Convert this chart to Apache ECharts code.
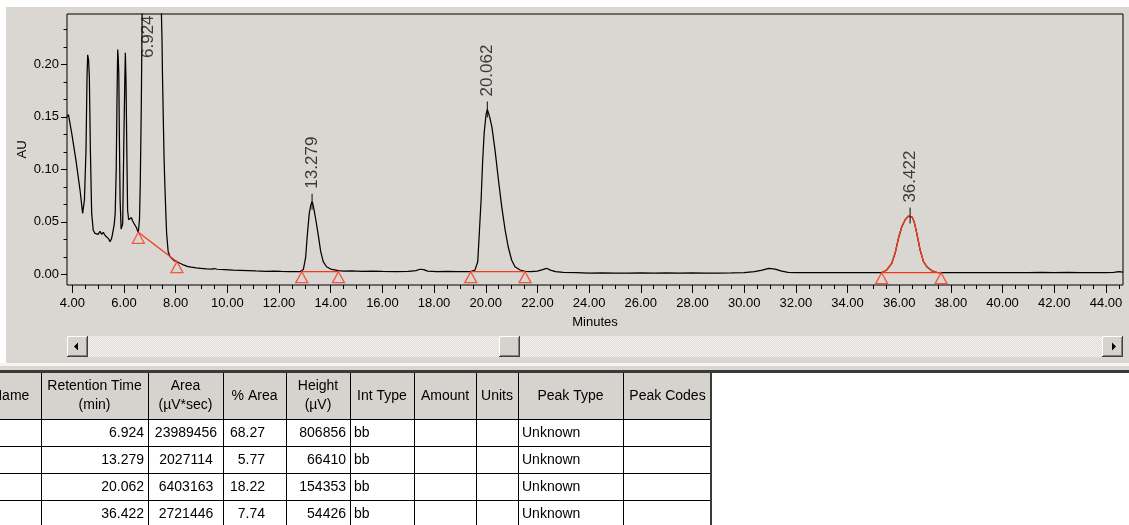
<!DOCTYPE html>
<html>
<head>
<meta charset="utf-8">
<script src="https://cdn.jsdelivr.net/npm/echarts@6/dist/echarts.min.js"></script>
<style>
  html, body { margin: 0; padding: 0; background: #ffffff; }
  #chart { width: 1129px; height: 525px; }
</style>
</head>
<body>
<div id="chart"></div>
<script>
// ---- Chromatogram trace: retention time (min) and absorbance (AU) ----
const traceTime = [
  3.80, 3.85, 3.98, 4.14, 4.30, 4.40, 4.47, 4.53, 4.57, 4.595, 4.63, 4.66, 4.70, 4.75, 4.81, 4.88, 4.94, 5.00, 5.07, 5.14,
  5.20, 5.27, 5.33, 5.40, 5.46, 5.52, 5.56, 5.62, 5.66, 5.70, 5.73, 5.757, 5.78, 5.80, 5.82, 5.85, 5.89, 5.92, 5.95, 5.99,
  6.03, 6.053, 6.08, 6.11, 6.14, 6.18, 6.21, 6.25, 6.29, 6.33, 6.37, 6.42, 6.47, 6.52, 6.555,
  6.60, 6.63, 6.67, 6.70, 6.74, 6.79, 6.85, 6.924, 7.00, 7.10, 7.20, 7.30, 7.38, 7.44, 7.47, 7.49, 7.52, 7.55, 7.58, 7.62,
  7.65, 7.71, 7.78, 7.84, 7.94, 8.05,
  8.17, 8.30, 8.45, 8.60, 8.80, 8.95, 9.20, 9.40, 9.50, 9.60, 9.90, 10.23, 10.50, 10.80, 11.10, 11.50, 11.80, 12.10, 12.40, 12.60,
  12.81,
  12.94, 13.03, 13.09, 13.17, 13.23, 13.279, 13.31, 13.35, 13.43, 13.52, 13.61, 13.71, 13.84, 14.00, 14.10, 14.30, 14.50,
  14.80, 15.20, 15.60, 16.00, 16.50, 17.00, 17.30, 17.45, 17.60, 17.75, 18.10, 18.50, 18.90, 19.20, 19.42,
  19.58, 19.69, 19.75, 19.82, 19.88, 19.94, 20.01, 20.062, 20.10, 20.16, 20.24, 20.36, 20.49, 20.62, 20.75, 20.87, 21.00, 21.13, 21.33, 21.52,
  21.75,
  22.00, 22.20, 22.35, 22.50, 22.70, 23.00, 23.50, 24.00, 24.50, 25.00, 25.50, 26.00, 26.50, 27.00, 27.50, 28.00, 28.50, 29.00, 29.50, 30.00,
  30.40, 30.70, 30.95, 31.20, 31.45, 31.70, 32.00, 32.50, 33.00, 33.50, 34.00, 34.50, 35.00,
  35.32, 35.52, 35.71, 35.84, 35.97, 36.10, 36.23, 36.35, 36.422, 36.50, 36.58, 36.68, 36.81, 36.94, 37.07, 37.26, 37.45, 37.62,
  38.00, 38.50, 39.00, 39.50, 40.00, 40.50, 41.00, 41.50, 42.00, 42.50, 43.00, 43.50, 44.00, 44.30, 44.50, 44.66
];
const traceAU = [
  0.150, 0.152, 0.134, 0.109, 0.080, 0.058, 0.071, 0.118, 0.188, 0.209, 0.204, 0.188, 0.118, 0.058, 0.042, 0.039, 0.040, 0.038, 0.041, 0.038,
  0.040, 0.037, 0.038, 0.034, 0.031, 0.034, 0.039, 0.047, 0.058, 0.100, 0.166, 0.214, 0.205, 0.190, 0.134, 0.071, 0.043, 0.044, 0.048, 0.118,
  0.182, 0.211, 0.182, 0.118, 0.061, 0.052, 0.053, 0.051, 0.054, 0.051, 0.050, 0.047, 0.045, 0.042, 0.040,
  0.052, 0.085, 0.160, 0.240, 0.380, 0.560, 0.740, 0.837, 0.790, 0.650, 0.500, 0.380, 0.300, 0.258, 0.225, 0.190, 0.150, 0.112, 0.087, 0.058,
  0.039, 0.0215, 0.017, 0.0152, 0.013, 0.012,
  0.0105, 0.0089, 0.0075, 0.0068, 0.0060, 0.0057, 0.0052, 0.0050, 0.0055, 0.0048, 0.0045, 0.0040, 0.0038, 0.0036, 0.0032, 0.0028, 0.0030, 0.0027, 0.0025, 0.0026,
  0.0025,
  0.0045, 0.016, 0.036, 0.058, 0.066, 0.0692, 0.067, 0.062, 0.051, 0.037, 0.022, 0.012, 0.0072, 0.0050, 0.0045, 0.0035, 0.0030,
  0.0032, 0.0028, 0.0030, 0.0027, 0.0026, 0.0027, 0.0035, 0.0048, 0.0045, 0.0030, 0.0026, 0.0028, 0.0025, 0.0026, 0.0025,
  0.0040, 0.012, 0.039, 0.071, 0.108, 0.135, 0.152, 0.1569, 0.154, 0.149, 0.140, 0.118, 0.090, 0.064, 0.042, 0.026, 0.0136, 0.0072, 0.0041, 0.0028,
  0.0025,
  0.0030, 0.0045, 0.0057, 0.0040, 0.0025, 0.0018, 0.0015, 0.0012, 0.0013, 0.0012, 0.0012, 0.0013, 0.0012, 0.0014, 0.0012, 0.0013, 0.0010, 0.0012, 0.0013, 0.0016,
  0.0025, 0.0040, 0.0057, 0.0050, 0.0030, 0.0018, 0.0015, 0.0016, 0.0015, 0.0016, 0.0015, 0.0016, 0.0015,
  0.0015, 0.0041, 0.0105, 0.020, 0.0343, 0.0453, 0.052, 0.0553, 0.0559, 0.0545, 0.050, 0.039, 0.0231, 0.012, 0.0072, 0.0034, 0.0018, 0.0015,
  0.0017, 0.0015, 0.0016, 0.0015, 0.0017, 0.0015, 0.0016, 0.0018, 0.0016, 0.0018, 0.0016, 0.0017, 0.0016, 0.0018, 0.0025, 0.0020
];

// ---- Integrated peaks ----
const peakRT      = [6.924, 13.279, 20.062, 36.422];
const peakApexAU  = [0.837, 0.0692, 0.1569, 0.0559];
const peakStartT  = [6.555, 12.88, 19.42, 35.32];
const peakStartAU = [0.040, 0.0025, 0.0025, 0.0015];
const peakEndT    = [8.05, 14.30, 21.52, 37.62];
const peakEndAU   = [0.012, 0.0025, 0.0025, 0.0015];
const selectedPeak = 3;          // drawn in red
const offScaleLabelAU = 0.206;   // label start for a peak above the plot

// ---- Axes ----
const xMin = 3.795, xMax = 44.66;
const yMin = -0.0102, yMax = 0.2479;
const xMajorTicks = [4, 6, 8, 10, 12, 14, 16, 18, 20, 22, 24, 26, 28, 30, 32, 34, 36, 38, 40, 42, 44];
const yMajorTicks = [0, 0.05, 0.10, 0.15, 0.20];
const xMinorTicks = [];
for (let t = 4.5; t <= 44.5; t += 0.5) { if (Math.abs(t % 2) > 1e-9) xMinorTicks.push(+t.toFixed(2)); }
const yMinorTicks = [];
for (let k = 1; k <= 14; k++) { if (k % 3) yMinorTicks.push(+(k * 0.05 / 3).toFixed(5)); }

// ---- Peak table ----
const tableHeaders = ['Name', 'Retention Time\n(min)', 'Area\n(\u00b5V*sec)', '% Area', 'Height\n(\u00b5V)',
                      'Int Type', 'Amount', 'Units', 'Peak Type', 'Peak Codes'];
const tblRetention = ['6.924', '13.279', '20.062', '36.422'];
const tblArea      = ['23989456', '2027114', '6403163', '2721446'];
const tblPctArea   = ['68.27', '5.77', '18.22', '7.74'];
const tblHeight    = ['806856', '66410', '154353', '54426'];
const tblIntType   = ['bb', 'bb', 'bb', 'bb'];
const tblPeakType  = ['Unknown', 'Unknown', 'Unknown', 'Unknown'];

// ---------------------------------------------------------------
const FONT = 'Arial, "Liberation Sans", sans-serif';
const RED = '#f53a1c';
const PANEL = '#dad6d2';
const FACE = '#d6d2ce';

const n = Math.min(traceTime.length, traceAU.length);
const trace = [];
for (let i = 0; i < n; i++) trace.push([traceTime[i], traceAU[i]]);
const selLo = peakStartT[selectedPeak], selHi = peakEndT[selectedPeak];
const selectedTrace = trace.filter(p => p[0] >= selLo - 1e-9 && p[0] <= selHi + 1e-9);

const baselineSeries = peakRT.map((rt, i) => ({
  type: 'line', silent: true, symbol: 'none', animation: false, z: 4,
  lineStyle: { color: RED, width: 1.3 },
  data: [[peakStartT[i], peakStartAU[i]], [peakEndT[i], peakEndAU[i]]]
}));

const markerPoints = [];
peakRT.forEach((rt, i) => {
  markerPoints.push([peakStartT[i], peakStartAU[i]]);
  markerPoints.push([peakEndT[i], peakEndAU[i]]);
});

const peakLabels = peakRT.map((rt, i) => {
  const onScale = peakApexAU[i] < yMax;
  return {
    value: [rt, onScale ? peakApexAU[i] : offScaleLabelAU],
    symbolSize: onScale ? [1.2, 16] : 0,
    label: { distance: onScale ? 5 : 0 }
  };
});

// ---- panel furniture: scrollbar and results table ----
const W = 1129, H = 525;
const gfx = [];
function rect(x, y, w, h, fill, z) { gfx.push({ type: 'rect', silent: true, z: z || 0, shape: { x, y, width: w, height: h }, style: { fill } }); }
function line(x1, y1, x2, y2, stroke, lw) { gfx.push({ type: 'line', silent: true, z: 1, shape: { x1, y1, x2, y2 }, style: { stroke, lineWidth: lw || 1 } }); }
function text(x, y, s, align, opts) {
  gfx.push({ type: 'text', silent: true, z: 2, x, y,
    style: Object.assign({ text: s, fill: '#000', font: '14px ' + FONT, align: align, verticalAlign: 'middle', lineHeight: 19 }, opts || {}) });
}

// white margins around the panel
rect(0, 0, W, 7, '#ffffff');
rect(0, 0, 6, 364, '#ffffff');

// scrollbar track with a dotted texture
const pat = document.createElement('canvas');
pat.width = 2; pat.height = 2;
const pc = pat.getContext('2d');
pc.fillStyle = '#f4f3f1'; pc.fillRect(0, 0, 2, 2);
pc.fillStyle = '#dedbd7'; pc.fillRect(1, 0, 1, 1); pc.fillRect(0, 1, 1, 1);
gfx.push({ type: 'rect', silent: true, shape: { x: 67, y: 336, width: 1056, height: 21 }, style: { fill: { image: pat, repeat: 'repeat' } } });

function button(x, y, w, h) {
  rect(x, y, w, h, FACE, 1);
  line(x + 0.5, y + 0.5, x + w - 1, y + 0.5, '#ffffff');
  line(x + 0.5, y + 0.5, x + 0.5, y + h - 1, '#ffffff');
  line(x, y + h - 0.5, x + w, y + h - 0.5, '#404040');
  line(x + w - 0.5, y, x + w - 0.5, y + h, '#404040');
  line(x + 1, y + h - 1.5, x + w - 1, y + h - 1.5, '#808080');
  line(x + w - 1.5, y + 1, x + w - 1.5, y + h - 1, '#808080');
}
button(67, 336, 21, 21);
button(499, 336, 21, 21);
button(1102, 336, 21, 21);
gfx.push({ type: 'polygon', silent: true, z: 2, shape: { points: [[74, 346.5], [78, 342.5], [78, 350.5]] }, style: { fill: '#000' } });
gfx.push({ type: 'polygon', silent: true, z: 2, shape: { points: [[1116, 346.5], [1112, 342.5], [1112, 350.5]] }, style: { fill: '#000' } });

// separator between the plot panel and the table
rect(0, 363, W, 3, '#f6f5f3');
rect(0, 370, W, 3, '#3a3a3a');

// table
const colEdges = [0, 41, 148, 223, 286, 350, 414, 476, 518, 623, 712];
const headTop = 373, headBot = 419, rowH = 27;
rect(0, headTop, 712, headBot - headTop, FACE);
rect(0, headBot, 712, H - headBot, '#ffffff');
rect(712, headTop, W - 712, H - headTop, '#ffffff');
for (let r = 0; r < 4; r++) line(0, headBot + r * rowH + 0.5, 712, headBot + r * rowH + 0.5, '#000');
for (let c = 1; c < colEdges.length - 1; c++) line(colEdges[c] + 0.5, headTop, colEdges[c] + 0.5, H, '#000');
line(711, headTop, 711, H, '#3a3a3a', 2);
tableHeaders.forEach((h, c) => {
  const cx = c === 0 ? -8 : (colEdges[c] + colEdges[c + 1]) / 2;
  text(cx, (headTop + headBot) / 2, h, c === 0 ? 'left' : 'center');
});
for (let r = 0; r < 4; r++) {
  const cy = headBot + r * rowH + rowH / 2 + 1;
  text(144, cy, tblRetention[r], 'right');
  text(186, cy, tblArea[r], 'center');
  text(265, cy, tblPctArea[r], 'right');
  text(346, cy, tblHeight[r], 'right');
  text(354, cy, tblIntType[r], 'left');
  text(522, cy, tblPeakType[r], 'left');
}

// ---- chart ----
const chart = echarts.init(document.getElementById('chart'), null, { renderer: 'canvas', width: W, height: H });
const tickLabelStyle = { color: '#000', fontSize: 13, fontFamily: FONT };

chart.setOption({
  animation: false,
  backgroundColor: PANEL,
  textStyle: { fontFamily: FONT },
  grid: { left: 67, top: 14, width: 1056, height: 271, show: true, borderColor: '#000', borderWidth: 1, backgroundColor: 'transparent' },
  xAxis: [
    {
      type: 'value', min: xMin, max: xMax, position: 'bottom',
      axisLine: { show: false, onZero: false }, splitLine: { show: false },
      axisTick: { show: true, customValues: xMajorTicks, length: 8, lineStyle: { color: '#000' } },
      axisLabel: Object.assign({ customValues: xMajorTicks, margin: 12, formatter: v => v.toFixed(2) }, tickLabelStyle),
      name: 'Minutes', nameLocation: 'middle', nameGap: 31, nameMoveOverlap: false,
      nameTextStyle: { color: '#000', fontSize: 13, fontFamily: FONT }
    },
    {
      type: 'value', min: xMin, max: xMax, position: 'bottom',
      axisLine: { show: false, onZero: false }, splitLine: { show: false }, axisLabel: { show: false },
      axisTick: { show: true, customValues: xMinorTicks, length: 4, lineStyle: { color: '#000' } }
    }
  ],
  yAxis: [
    {
      type: 'value', min: yMin, max: yMax, position: 'left',
      axisLine: { show: false, onZero: false }, splitLine: { show: false },
      axisTick: { show: true, customValues: yMajorTicks, length: 6, lineStyle: { color: '#000' } },
      axisLabel: Object.assign({ customValues: yMajorTicks, margin: 8, formatter: v => v.toFixed(2) }, tickLabelStyle),
      name: 'AU', nameLocation: 'middle', nameGap: 38, nameRotate: 90, nameMoveOverlap: false,
      nameTextStyle: { color: '#000', fontSize: 13, fontFamily: FONT }
    },
    {
      type: 'value', min: yMin, max: yMax, position: 'left',
      axisLine: { show: false, onZero: false }, splitLine: { show: false }, axisLabel: { show: false },
      axisTick: { show: true, customValues: yMinorTicks, length: 3.5, lineStyle: { color: '#000' } }
    }
  ],
  series: [
    {
      name: 'trace', type: 'line', data: trace, showSymbol: false, symbol: 'none', clip: true, silent: true, z: 3,
      lineStyle: { color: '#000', width: 1.25 }
    },
    {
      name: 'selected', type: 'line', data: selectedTrace, showSymbol: false, symbol: 'none', clip: true, silent: true, z: 5,
      lineStyle: { color: RED, width: 1.35 }
    },
    ...baselineSeries,
    {
      name: 'markers', type: 'scatter', data: markerPoints, silent: true, z: 6,
      symbol: 'triangle', symbolSize: [12, 11], symbolOffset: [0, 5.5],
      itemStyle: { color: 'rgba(0,0,0,0)', borderColor: RED, borderWidth: 1.3 }
    },
    {
      name: 'apex', type: 'scatter', data: peakLabels, silent: true, z: 7,
      symbol: 'rect', itemStyle: { color: '#000' },
      label: {
        show: true, position: 'top', rotate: 90, align: 'left', verticalAlign: 'middle',
        formatter: p => p.value[0].toFixed(3), color: '#111', fontSize: 17, fontFamily: FONT
      }
    }
  ],
  graphic: gfx
});
</script>
</body>
</html>
